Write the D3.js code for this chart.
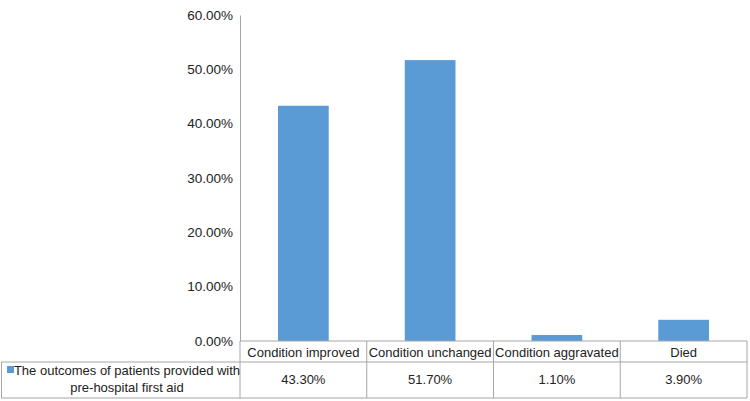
<!DOCTYPE html>
<html><head><meta charset="utf-8">
<script src="https://cdn.jsdelivr.net/npm/d3@7"></script>
<style>body{margin:0;background:#fff;} text{font-family:"Liberation Sans",Arial,sans-serif;}</style>
</head><body>
<svg id="c" width="750" height="401"></svg>
<script>
const categories = ["Condition improved","Condition unchanged","Condition aggravated","Died"];
const values = [43.3, 51.7, 1.1, 3.9];
const valueLabels = ["43.30%","51.70%","1.10%","3.90%"];
const yTicks = [0,10,20,30,40,50,60];
const seriesName = ["The outcomes of patients provided with","pre-hospital first aid"];

(function(){
const svg = d3.select("#c");
const mLeft = 240, mRight = 747, mTop = 15, mBottom = 341;
const x = d3.scaleBand().domain(categories).range([mLeft,mRight]).paddingInner(0.6).paddingOuter(0.3);
const y = d3.scaleLinear().domain([0,60]).range([mBottom,mTop]);
const color = "#5b9bd5", grid = "#a6a6a6", fs = 13;

// bars
svg.selectAll("rect.bar").data(values).enter().append("rect")
  .attr("x",(d,i)=>x(categories[i])).attr("width",x.bandwidth())
  .attr("y",d=>y(d)).attr("height",d=>y(0)-y(d)).attr("fill",color);

// y axis
const ax = svg.append("g").attr("transform",`translate(${mLeft},0)`)
  .call(d3.axisLeft(y).tickValues(yTicks).tickSize(0).tickPadding(7).tickFormat(d=>d.toFixed(2)+"%"));
ax.select(".domain").attr("stroke",grid);
ax.selectAll("text").attr("font-size",13.5).attr("fill","#222").style("font-family","Liberation Sans, Arial, sans-serif");

// data table
const rowMid = 362, rowBot = 398;
const step = x.step();
const g = svg.append("g").attr("stroke",grid).attr("stroke-width",1).attr("fill","none");
g.append("line").attr("x1",mLeft).attr("x2",mRight).attr("y1",mBottom).attr("y2",mBottom);
g.append("line").attr("x1",1).attr("x2",mRight).attr("y1",rowMid).attr("y2",rowMid);
g.append("line").attr("x1",1).attr("x2",mRight).attr("y1",rowBot).attr("y2",rowBot);
g.append("line").attr("x1",1.5).attr("x2",1.5).attr("y1",rowMid).attr("y2",rowBot);
categories.forEach((c,i)=>{
  const xx = mLeft + i*step;
  g.append("line").attr("x1",xx).attr("x2",xx).attr("y1",mBottom).attr("y2",rowBot);
});
g.append("line").attr("x1",mRight).attr("x2",mRight).attr("y1",mBottom).attr("y2",rowBot);

svg.selectAll("text.cat").data(categories).enter().append("text")
  .attr("x",d=>x(d)+x.bandwidth()/2).attr("y",357).attr("text-anchor","middle")
  .attr("font-size",fs).attr("fill","#222").text(d=>d);
svg.selectAll("text.val").data(valueLabels).enter().append("text")
  .attr("x",(d,i)=>x(categories[i])+x.bandwidth()/2).attr("y",384).attr("text-anchor","middle")
  .attr("font-size",fs).attr("fill","#222").text(d=>d);

// legend key
svg.append("rect").attr("x",7).attr("y",366).attr("width",7).attr("height",7).attr("fill",color);
svg.append("text").attr("x",127).attr("y",375).attr("text-anchor","middle").attr("font-size",fs).attr("fill","#222").text(seriesName[0]);
svg.append("text").attr("x",127).attr("y",392).attr("text-anchor","middle").attr("font-size",fs).attr("fill","#222").text(seriesName[1]);
})();
</script>
</body></html>
